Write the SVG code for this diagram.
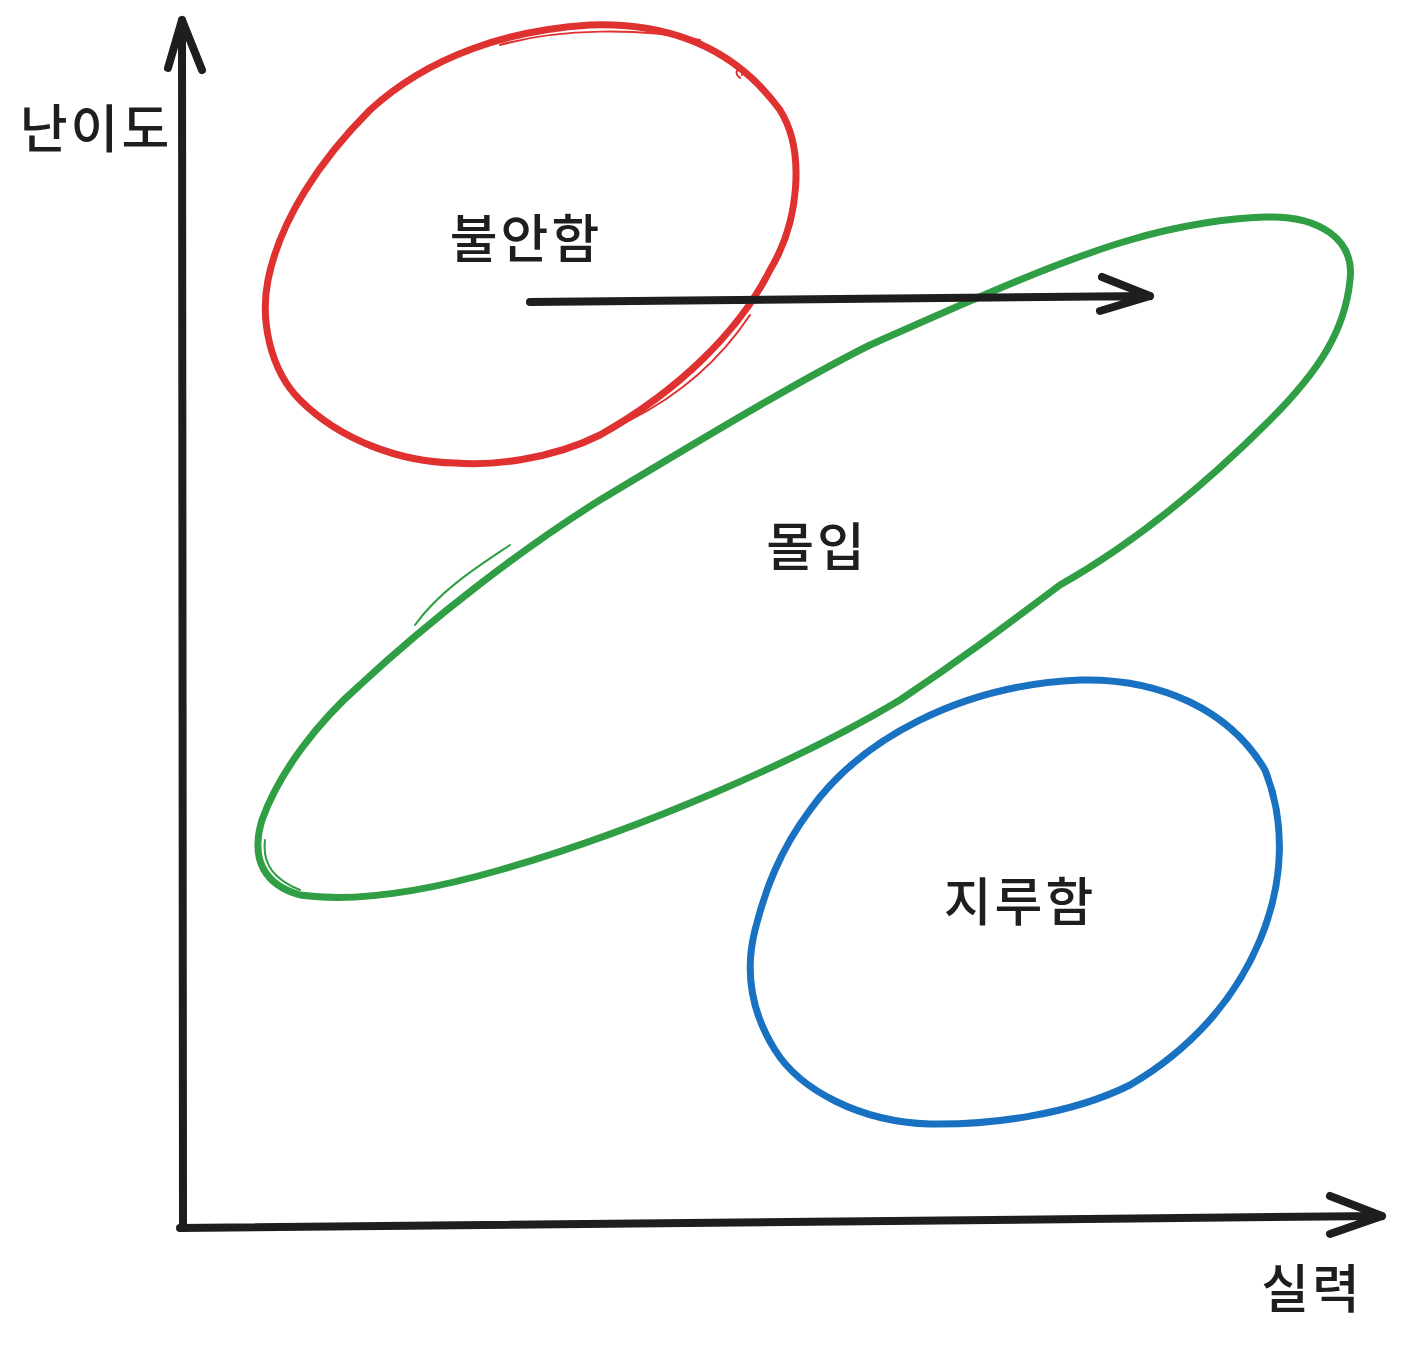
<svg xmlns="http://www.w3.org/2000/svg" width="1401" height="1350" viewBox="0 0 1401 1350">
<style>
.lbl{font-family:"Noto Sans CJK KR","Noto Sans",sans-serif;font-size:52px;letter-spacing:3px;fill:#1e1e1e;font-weight:500}
.shape{fill:none;stroke-linecap:round;stroke-linejoin:round}
.thin{fill:none;stroke-linecap:round;stroke-width:2}
.ax{fill:none;stroke:#1e1e1e;stroke-width:8;stroke-linecap:round;stroke-linejoin:round}
</style>
<rect width="1401" height="1350" fill="#ffffff"/>
<g id="anxiety">
<path class="shape" stroke="#e03131" stroke-width="7" d="M 590 25 C 680 22, 740 55, 780 110 C 805 150, 800 220, 770 270 C 740 330, 680 390, 600 435 C 550 460, 490 466, 455 463 C 400 462, 340 440, 300 400 C 270 370, 260 320, 268 280 C 280 220, 320 160, 370 110 C 430 55, 510 30, 590 25 Z"/>
<path class="thin" stroke="#e03131" d="M 500 45 C 560 28, 640 28, 700 40 M 740 78 C 730 70, 745 65, 742 75 M 750 315 C 720 360, 680 395, 630 420"/>
<text class="lbl" x="526" y="258" text-anchor="middle">불안함</text>
</g>
<g id="flow">
<path class="shape" stroke="#2f9e44" stroke-width="7" d="M 1265 217 C 1320 215, 1355 240, 1350 280 C 1345 330, 1320 370, 1270 420 C 1210 480, 1140 540, 1060 585 C 1000 630, 960 660, 900 700 C 800 760, 640 830, 500 870 C 420 893, 350 902, 300 895 C 265 885, 250 860, 262 820 C 280 770, 320 720, 360 685 C 430 620, 520 550, 600 500 C 700 440, 800 380, 870 345 C 960 305, 1060 260, 1130 240 C 1180 225, 1230 218, 1265 217 Z"/>
<path class="thin" stroke="#2f9e44" d="M 415 625 C 440 590, 480 565, 510 545 M 300 890 C 275 880, 262 865, 265 840"/>
<text class="lbl" x="817" y="566" text-anchor="middle">몰입</text>
</g>
<g id="boredom">
<path class="shape" stroke="#1971c2" stroke-width="7" d="M 1080 680 C 1160 678, 1230 710, 1265 770 C 1285 820, 1285 880, 1260 940 C 1235 1000, 1190 1050, 1130 1085 C 1070 1115, 990 1125, 930 1124 C 860 1122, 800 1090, 775 1050 C 750 1010, 745 970, 755 930 C 765 890, 780 850, 810 810 C 860 740, 960 685, 1080 680 Z"/>
<text class="lbl" x="1020" y="921" text-anchor="middle">지루함</text>
</g>
<g id="axis-labels">
<text class="lbl" x="96" y="148" text-anchor="middle">난이도</text>
<text class="lbl" x="1312" y="1308" text-anchor="middle">실력</text>
</g>
<g id="connectors">
<path class="ax" d="M 183 1228 L 182 20 M 182 20 L 168 68 M 182 20 L 202 70"/>
<path class="ax" d="M 180 1228 L 1382 1216 M 1382 1216 L 1330 1196 M 1382 1216 L 1330 1234"/>
<path class="ax" d="M 530 302 L 1150 296 M 1150 296 L 1102 277 M 1150 296 L 1100 311"/>
</g>
</svg>
